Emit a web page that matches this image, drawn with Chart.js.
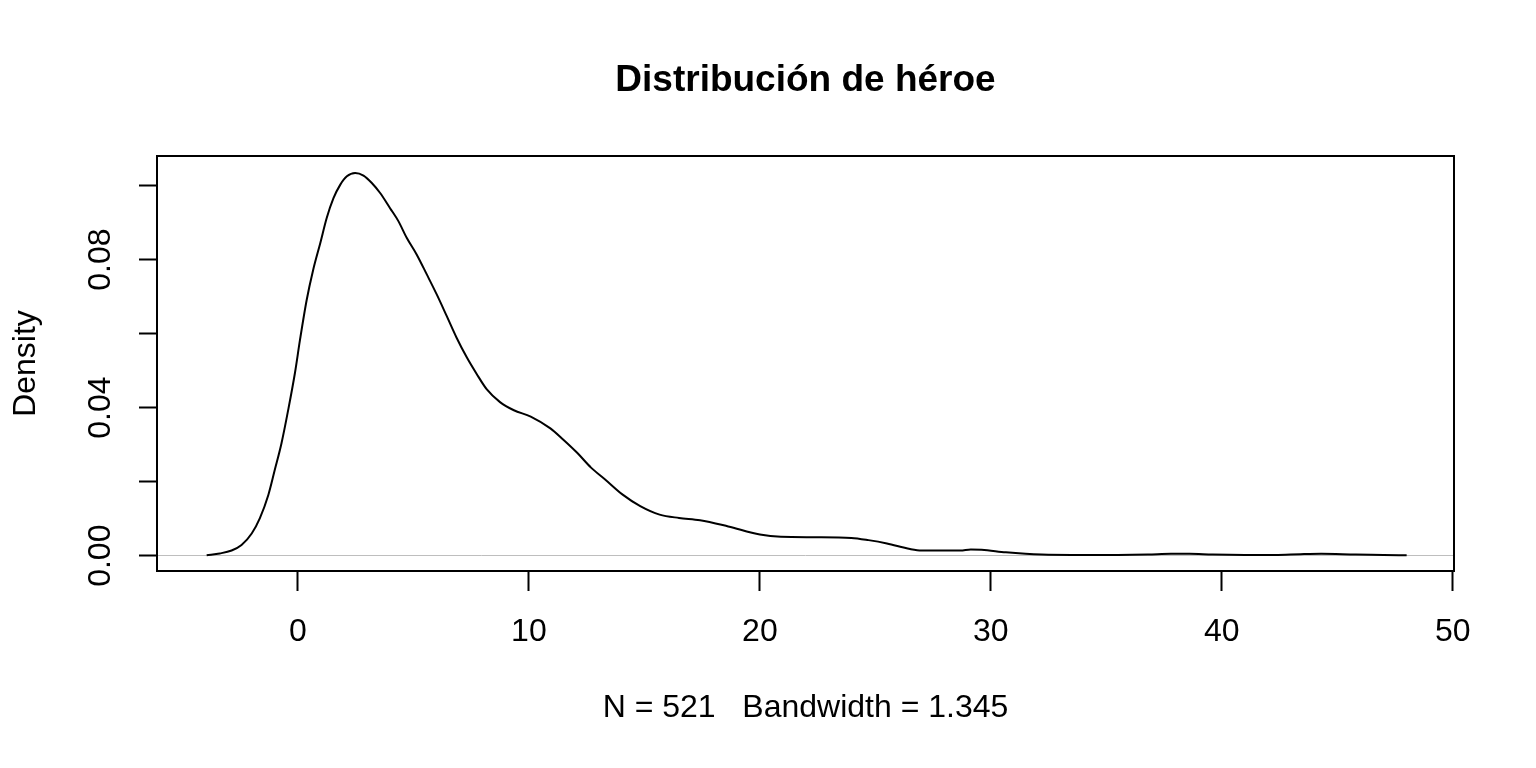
<!DOCTYPE html>
<html>
<head>
<meta charset="utf-8">
<title>Distribución de héroe</title>
<script src="https://cdn.jsdelivr.net/npm/chart.js@4.4.1/dist/chart.umd.min.js"></script>
<style>
  html, body { margin: 0; padding: 0; background: #fff; }
  canvas { display: block; }
</style>
</head>
<body>
<canvas id="chart-densidad" width="1536" height="768"></canvas>
<script>
// Curva de densidad
const densX = [-3.95, -3.38, -2.87, -2.44, -2.0, -1.65, -1.28, -1.0, -0.71, -0.42,
  -0.13, 0.09, 0.38, 0.66, 0.97, 1.25, 1.54, 1.83, 2.12, 2.48, 2.84,
  3.2, 3.56, 3.99, 4.35, 4.71, 5.14, 5.58, 6.01, 6.44, 6.87,
  7.31, 7.74, 8.17, 8.75, 9.35, 10.08, 10.93, 11.48, 12.09, 12.69,
  13.3, 14.06, 14.82, 15.66, 16.5, 17.41, 18.63, 20.0, 20.91, 22.4,
  23.96, 24.7, 25.5, 26.5, 27.0, 28.68, 29.13, 29.6, 30.65, 31.5,
  32.2, 33.5, 35.5, 36.8, 37.8, 38.6, 39.6, 41.0, 42.3, 43.4,
  44.3, 45.8, 47.0, 48.0];
const densY = [0.0001, 0.0006, 0.0014, 0.0029, 0.006, 0.0101, 0.0164, 0.0232, 0.0304, 0.0394,
  0.0493, 0.0583, 0.0691, 0.0772, 0.0845, 0.0913, 0.0966, 0.1002, 0.1025, 0.1034, 0.1027,
  0.1007, 0.098, 0.0939, 0.0904, 0.0859, 0.0814, 0.076, 0.0706, 0.0648, 0.0589,
  0.0536, 0.0491, 0.045, 0.0415, 0.0393, 0.0376, 0.0344, 0.0314, 0.0278, 0.0238,
  0.0206, 0.0165, 0.0134, 0.0111, 0.0102, 0.0096, 0.0079, 0.0057, 0.0051, 0.0050,
  0.0048, 0.0042, 0.0033, 0.0018, 0.0014, 0.0014, 0.0017, 0.0016, 0.0009, 0.0005,
  0.0003, 0.0002, 0.0002, 0.0003, 0.0005, 0.0005, 0.0003, 0.0002, 0.0002, 0.0004,
  0.0005, 0.0003, 0.0002, 0.0001];

const xTicks = [0, 10, 20, 30, 40, 50];
const yTicks = [0, 0.02, 0.04, 0.06, 0.08, 0.10];
const yLabels = [0, 0.04, 0.08];

const titulo = "Distribución de héroe";
const tituloY = "Density";
const tituloX = "N = 521   Bandwidth = 1.345";

const fuente = '"Liberation Sans", Arial, sans-serif';

// caja, etiquetas y titulos al estilo de R
const textosR = {
  id: "textosR",
  afterDraw(chart) {
    const ctx = chart.ctx;
    const area = chart.chartArea;
    const sx = chart.scales.x;
    const sy = chart.scales.y;
    ctx.save();
    ctx.strokeStyle = "#000";
    ctx.lineWidth = 2;
    ctx.strokeRect(area.left, area.top, area.right - area.left, area.bottom - area.top);

    ctx.fillStyle = "#000";
    ctx.textAlign = "center";
    ctx.textBaseline = "middle";

    ctx.font = "bold 37px " + fuente;
    ctx.fillText(titulo, (area.left + area.right) / 2, 81);

    ctx.font = "32px " + fuente;
    xTicks.forEach(v => {
      ctx.fillText(String(v), sx.getPixelForValue(v), 632);
    });
    ctx.fillText(tituloX, (area.left + area.right) / 2, 708);

    yLabels.forEach(v => {
      ctx.save();
      ctx.translate(101, sy.getPixelForValue(v));
      ctx.rotate(-Math.PI / 2);
      ctx.fillText(v.toFixed(2), 0, 0);
      ctx.restore();
    });

    ctx.save();
    ctx.translate(26, (area.top + area.bottom) / 2);
    ctx.rotate(-Math.PI / 2);
    ctx.fillText(tituloY, 0, 0);
    ctx.restore();
    ctx.restore();
  },
};

const contenedor = document.querySelector("#chart-densidad").getContext("2d");

const configuracion = {
  type: "scatter",
  data: {
    datasets: [
      {
        label: "densidad",
        data: densX.map((x, i) => ({ x: x, y: densY[i] })),
        showLine: true,
        borderColor: "#000",
        borderWidth: 2,
        pointRadius: 0,
        cubicInterpolationMode: "monotone",
        fill: false,
      },
    ],
  },
  options: {
    responsive: false,
    animation: false,
    devicePixelRatio: 1,
    layout: { padding: { left: 0, top: 156, right: 82, bottom: 0 } },
    plugins: {
      legend: { display: false },
      tooltip: { enabled: false },
      title: { display: false },
    },
    scales: {
      x: {
        type: "linear",
        min: -6.1,
        max: 50.05,
        afterBuildTicks: s => { s.ticks = xTicks.map(v => ({ value: v })); },
        afterFit: s => { s.height = 197; },
        ticks: { display: false },
        border: { display: false },
        grid: {
          drawOnChartArea: false,
          drawTicks: true,
          tickLength: 20,
          tickWidth: 2,
          tickColor: "#000",
        },
      },
      y: {
        type: "linear",
        min: -0.00414,
        max: 0.108,
        afterBuildTicks: s => { s.ticks = yTicks.map(v => ({ value: v })); },
        afterFit: s => { s.width = 157; },
        ticks: { display: false },
        border: { display: false },
        grid: {
          drawOnChartArea: true,
          drawTicks: true,
          tickLength: 18,
          tickWidth: 2,
          tickColor: "#000",
          lineWidth: 1,
          color: c => (c.tick && c.tick.value === 0 ? "#bebebe" : "rgba(0,0,0,0)"),
        },
      },
    },
  },
  plugins: [textosR],
};

const chartDensidad = new Chart(contenedor, configuracion);
</script>
</body>
</html>
